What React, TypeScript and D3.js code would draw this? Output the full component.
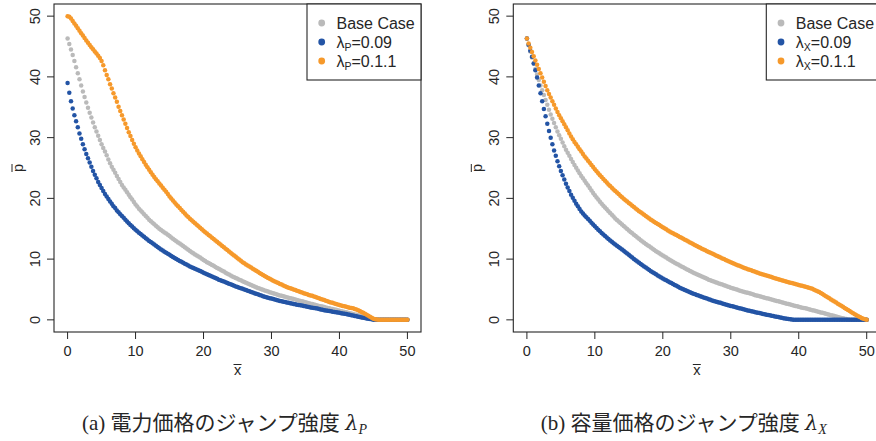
import React from 'react';
import * as d3 from 'd3';

const X_GRID = [
  0, 0.25, 0.5, 0.75, 1, 1.25, 1.5, 1.75, 2, 2.25, 2.5, 2.75, 3, 3.25, 3.5, 3.75, 4, 4.25, 4.5, 4.75,
  5, 5.25, 5.5, 5.75, 6, 6.25, 6.5, 6.75, 7, 7.25, 7.5, 7.75, 8, 8.25, 8.5, 8.75, 9, 9.25, 9.5, 9.75,
  10, 10.25, 10.5, 10.75, 11, 11.25, 11.5, 11.75, 12, 12.25, 12.5, 12.75, 13, 13.25, 13.5, 13.75, 14, 14.25, 14.5, 14.75,
  15, 15.25, 15.5, 15.75, 16, 16.25, 16.5, 16.75, 17, 17.25, 17.5, 17.75, 18, 18.25, 18.5, 18.75, 19, 19.25, 19.5, 19.75,
  20, 20.25, 20.5, 20.75, 21, 21.25, 21.5, 21.75, 22, 22.25, 22.5, 22.75, 23, 23.25, 23.5, 23.75, 24, 24.25, 24.5, 24.75,
  25, 25.25, 25.5, 25.75, 26, 26.25, 26.5, 26.75, 27, 27.25, 27.5, 27.75, 28, 28.25, 28.5, 28.75, 29, 29.25, 29.5, 29.75,
  30, 30.25, 30.5, 30.75, 31, 31.25, 31.5, 31.75, 32, 32.25, 32.5, 32.75, 33, 33.25, 33.5, 33.75, 34, 34.25, 34.5, 34.75,
  35, 35.25, 35.5, 35.75, 36, 36.25, 36.5, 36.75, 37, 37.25, 37.5, 37.75, 38, 38.25, 38.5, 38.75, 39, 39.25, 39.5, 39.75,
  40, 40.25, 40.5, 40.75, 41, 41.25, 41.5, 41.75, 42, 42.25, 42.5, 42.75, 43, 43.25, 43.5, 43.75, 44, 44.25, 44.5, 44.75,
  45, 45.25, 45.5, 45.75, 46, 46.25, 46.5, 46.75, 47, 47.25, 47.5, 47.75, 48, 48.25, 48.5, 48.75, 49, 49.25, 49.5, 49.75,
  50,
];

// Panel (a): jump intensity of electricity price
const A_BASE = [
  46.3, 45.4, 44.5, 43.6, 42.6, 41.6, 40.6, 39.6, 38.6, 37.6, 36.7, 35.8, 34.9, 34.1, 33.3, 32.5, 31.7, 31.0, 30.3, 29.6,
  28.9, 28.3, 27.7, 27.1, 26.4, 25.8, 25.2, 24.7, 24.2, 23.7, 23.2, 22.7, 22.2, 21.8, 21.4, 21.0, 20.6, 20.2, 19.8, 19.4,
  19.0, 18.65, 18.3, 18.0, 17.7, 17.4, 17.1, 16.8, 16.5, 16.25, 16.0, 15.75, 15.5, 15.25, 15.0, 14.8, 14.6, 14.4, 14.2, 14.0,
  13.8, 13.57, 13.35, 13.15, 12.95, 12.75, 12.55, 12.35, 12.15, 11.95, 11.75, 11.55, 11.35, 11.15, 10.95, 10.77, 10.6, 10.42, 10.25, 10.05,
  9.85, 9.67, 9.5, 9.35, 9.2, 9.05, 8.9, 8.72, 8.55, 8.4, 8.25, 8.1, 7.95, 7.77, 7.6, 7.45, 7.3, 7.15, 7.0, 6.87,
  6.75, 6.62, 6.5, 6.37, 6.25, 6.12, 6.0, 5.87, 5.75, 5.62, 5.5, 5.37, 5.25, 5.15, 5.05, 4.95, 4.85, 4.75, 4.65, 4.55,
  4.45, 4.37, 4.3, 4.2, 4.1, 4.02, 3.95, 3.87, 3.8, 3.72, 3.65, 3.57, 3.5, 3.42, 3.35, 3.27, 3.2, 3.12, 3.05, 2.97,
  2.9, 2.82, 2.75, 2.67, 2.6, 2.52, 2.45, 2.37, 2.3, 2.25, 2.2, 2.12, 2.05, 1.97, 1.9, 1.84, 1.78, 1.71, 1.65, 1.57,
  1.5, 1.43, 1.37, 1.3, 1.24, 1.17, 1.1, 1.03, 0.96, 0.89, 0.82, 0.75, 0.68, 0.61, 0.55, 0.48, 0.42, 0.35, 0.28, 0.21,
  0.14, 0.08, 0.02, 0, 0, 0, 0, 0, 0, 0, 0, 0, 0, 0, 0, 0, 0, 0, 0, 0,
  0,
];
const A_LOW = [
  39.0, 37.4, 36.0, 34.8, 33.7, 32.7, 31.7, 30.7, 29.8, 28.9, 28.1, 27.3, 26.6, 25.9, 25.2, 24.5, 23.9, 23.3, 22.7, 22.2,
  21.7, 21.2, 20.7, 20.3, 19.9, 19.5, 19.1, 18.7, 18.4, 18.0, 17.7, 17.4, 17.1, 16.8, 16.5, 16.2, 15.9, 15.6, 15.35, 15.1,
  14.85, 14.6, 14.35, 14.12, 13.9, 13.67, 13.45, 13.22, 13.0, 12.8, 12.6, 12.4, 12.2, 12.0, 11.8, 11.6, 11.4, 11.22, 11.05, 10.87,
  10.7, 10.52, 10.35, 10.17, 10.0, 9.85, 9.7, 9.55, 9.4, 9.25, 9.1, 8.95, 8.8, 8.67, 8.55, 8.42, 8.3, 8.17, 8.05, 7.9,
  7.75, 7.62, 7.5, 7.37, 7.25, 7.12, 7.0, 6.87, 6.75, 6.62, 6.5, 6.4, 6.3, 6.17, 6.05, 5.95, 5.85, 5.72, 5.6, 5.5,
  5.4, 5.3, 5.2, 5.1, 5.0, 4.9, 4.8, 4.7, 4.6, 4.5, 4.4, 4.3, 4.2, 4.1, 4.0, 3.9, 3.8, 3.72, 3.65, 3.57,
  3.5, 3.42, 3.35, 3.27, 3.2, 3.12, 3.05, 3.0, 2.95, 2.87, 2.8, 2.75, 2.7, 2.62, 2.55, 2.5, 2.45, 2.4, 2.35, 2.3,
  2.25, 2.17, 2.1, 2.05, 2.0, 1.95, 1.9, 1.85, 1.8, 1.72, 1.65, 1.6, 1.55, 1.5, 1.45, 1.4, 1.35, 1.3, 1.25, 1.2,
  1.15, 1.1, 1.05, 1.0, 0.95, 0.88, 0.82, 0.76, 0.7, 0.64, 0.58, 0.52, 0.46, 0.4, 0.35, 0.3, 0.24, 0.18, 0.13, 0.08,
  0.03, 0, 0, 0, 0, 0, 0, 0, 0, 0, 0, 0, 0, 0, 0, 0, 0, 0, 0, 0,
  0,
];
const A_HIGH = [
  50.0, 49.9, 49.6, 49.2, 48.8, 48.4, 48.0, 47.6, 47.2, 46.8, 46.4, 46.0, 45.6, 45.25, 44.9, 44.55, 44.2, 43.85, 43.5, 43.1,
  42.6, 41.9, 41.1, 40.3, 39.6, 38.8, 38.1, 37.3, 36.6, 35.9, 35.1, 34.4, 33.7, 33.0, 32.3, 31.6, 30.9, 30.25, 29.6, 29.0,
  28.4, 27.9, 27.4, 26.92, 26.45, 26.0, 25.55, 25.12, 24.7, 24.3, 23.9, 23.52, 23.15, 22.8, 22.45, 22.1, 21.75, 21.42, 21.1, 20.7,
  20.3, 19.97, 19.65, 19.32, 19.0, 18.7, 18.4, 18.1, 17.8, 17.5, 17.2, 16.92, 16.65, 16.4, 16.15, 15.9, 15.65, 15.4, 15.15, 14.9,
  14.65, 14.42, 14.2, 13.97, 13.75, 13.52, 13.3, 13.07, 12.85, 12.62, 12.4, 12.17, 11.95, 11.72, 11.5, 11.27, 11.05, 10.82, 10.6, 10.37,
  10.15, 9.93, 9.72, 9.5, 9.3, 9.12, 8.95, 8.77, 8.6, 8.42, 8.25, 8.07, 7.9, 7.72, 7.55, 7.37, 7.2, 7.05, 6.9, 6.75,
  6.6, 6.45, 6.3, 6.17, 6.05, 5.92, 5.8, 5.67, 5.55, 5.42, 5.3, 5.2, 5.1, 5.0, 4.9, 4.8, 4.7, 4.6, 4.5, 4.4,
  4.3, 4.2, 4.1, 4.02, 3.95, 3.85, 3.75, 3.65, 3.55, 3.45, 3.35, 3.25, 3.15, 3.05, 2.95, 2.87, 2.8, 2.7, 2.6, 2.52,
  2.45, 2.37, 2.3, 2.22, 2.15, 2.07, 2.0, 1.95, 1.9, 1.8, 1.7, 1.58, 1.45, 1.3, 1.15, 1.0, 0.85, 0.67, 0.5, 0.35,
  0.2, 0.1, 0.05, 0.01, 0, 0, 0, 0, 0, 0, 0, 0, 0, 0, 0, 0, 0, 0, 0, 0,
  0,
];

// Panel (b): jump intensity of capacity price
const B_BASE = [
  46.3, 45.2, 44.2, 43.2, 42.2, 41.3, 40.4, 39.5, 38.6, 37.8, 37.0, 36.2, 35.4, 34.6, 33.8, 33.1, 32.4, 31.7, 31.0, 30.4,
  29.8, 29.2, 28.6, 28.0, 27.5, 27.0, 26.5, 26.0, 25.5, 25.05, 24.6, 24.15, 23.7, 23.3, 22.9, 22.5, 22.1, 21.7, 21.3, 20.9,
  20.5, 20.15, 19.8, 19.45, 19.1, 18.8, 18.5, 18.2, 17.9, 17.6, 17.3, 17.0, 16.7, 16.45, 16.2, 15.95, 15.7, 15.45, 15.2, 14.95,
  14.7, 14.47, 14.25, 14.02, 13.8, 13.57, 13.35, 13.12, 12.9, 12.7, 12.5, 12.3, 12.1, 11.9, 11.7, 11.5, 11.3, 11.12, 10.95, 10.77,
  10.6, 10.42, 10.25, 10.07, 9.9, 9.72, 9.55, 9.4, 9.25, 9.1, 8.95, 8.8, 8.65, 8.5, 8.35, 8.2, 8.05, 7.9, 7.75, 7.62,
  7.5, 7.37, 7.25, 7.12, 7.0, 6.87, 6.75, 6.62, 6.5, 6.4, 6.3, 6.2, 6.1, 6.0, 5.9, 5.8, 5.7, 5.6, 5.5, 5.4,
  5.3, 5.2, 5.1, 5.02, 4.95, 4.85, 4.75, 4.67, 4.6, 4.52, 4.45, 4.37, 4.3, 4.2, 4.1, 4.02, 3.95, 3.87, 3.8, 3.72,
  3.65, 3.57, 3.5, 3.42, 3.35, 3.27, 3.2, 3.12, 3.05, 2.97, 2.9, 2.82, 2.75, 2.67, 2.6, 2.52, 2.45, 2.37, 2.3, 2.22,
  2.15, 2.07, 2.0, 1.95, 1.9, 1.82, 1.75, 1.67, 1.6, 1.52, 1.45, 1.37, 1.3, 1.22, 1.15, 1.07, 1.0, 0.92, 0.85, 0.77,
  0.7, 0.62, 0.55, 0.47, 0.4, 0.32, 0.25, 0.18, 0.12, 0.07, 0.03, 0, 0, 0, 0, 0, 0, 0, 0, 0,
  0,
];
const B_LOW = [
  46.3, 45.3, 44.3, 43.3, 42.2, 41.1, 39.9, 38.6, 37.3, 36.0, 34.7, 33.5, 32.3, 31.1, 30.0, 28.9, 27.9, 27.0, 26.1, 25.3,
  24.5, 23.8, 23.1, 22.4, 21.8, 21.2, 20.6, 20.1, 19.6, 19.1, 18.7, 18.25, 17.85, 17.5, 17.2, 16.9, 16.6, 16.3, 16.0, 15.7,
  15.4, 15.12, 14.85, 14.57, 14.3, 14.05, 13.8, 13.55, 13.3, 13.07, 12.85, 12.62, 12.4, 12.2, 12.0, 11.8, 11.6, 11.37, 11.15, 10.92,
  10.7, 10.47, 10.25, 10.02, 9.8, 9.6, 9.4, 9.2, 9.0, 8.8, 8.6, 8.4, 8.2, 8.02, 7.85, 7.67, 7.5, 7.32, 7.15, 6.97,
  6.8, 6.65, 6.5, 6.35, 6.2, 6.05, 5.9, 5.75, 5.6, 5.45, 5.3, 5.17, 5.05, 4.92, 4.8, 4.67, 4.55, 4.42, 4.3, 4.2,
  4.1, 4.0, 3.9, 3.8, 3.7, 3.6, 3.5, 3.4, 3.3, 3.2, 3.1, 3.02, 2.95, 2.87, 2.8, 2.7, 2.6, 2.52, 2.45, 2.37,
  2.3, 2.22, 2.15, 2.07, 2.0, 1.92, 1.85, 1.77, 1.7, 1.62, 1.55, 1.48, 1.42, 1.36, 1.3, 1.23, 1.17, 1.11, 1.05, 0.98,
  0.92, 0.86, 0.8, 0.74, 0.68, 0.62, 0.56, 0.5, 0.45, 0.39, 0.34, 0.28, 0.23, 0.18, 0.13, 0.09, 0.05, 0.02, 0, 0,
  0, 0, 0, 0, 0, 0, 0, 0, 0, 0, 0, 0, 0, 0, 0, 0, 0, 0, 0, 0,
  0, 0, 0, 0, 0, 0, 0, 0, 0, 0, 0, 0, 0, 0, 0, 0, 0, 0, 0, 0,
  0,
];
const B_HIGH = [
  46.3, 45.5, 44.8, 44.1, 43.4, 42.7, 42.0, 41.3, 40.6, 39.9, 39.2, 38.5, 37.8, 37.2, 36.6, 36.0, 35.4, 34.8, 34.2, 33.7,
  33.2, 32.7, 32.2, 31.7, 31.2, 30.7, 30.2, 29.75, 29.3, 28.9, 28.5, 28.1, 27.7, 27.3, 26.9, 26.55, 26.2, 25.85, 25.5, 25.15,
  24.8, 24.47, 24.15, 23.82, 23.5, 23.2, 22.9, 22.6, 22.3, 22.02, 21.75, 21.47, 21.2, 20.95, 20.7, 20.45, 20.2, 19.95, 19.7, 19.47,
  19.25, 19.02, 18.8, 18.57, 18.35, 18.12, 17.9, 17.7, 17.5, 17.3, 17.1, 16.9, 16.7, 16.5, 16.3, 16.12, 15.95, 15.77, 15.6, 15.42,
  15.25, 15.07, 14.9, 14.72, 14.55, 14.4, 14.25, 14.1, 13.95, 13.8, 13.65, 13.5, 13.35, 13.2, 13.05, 12.9, 12.75, 12.6, 12.45, 12.3,
  12.15, 12.0, 11.85, 11.72, 11.6, 11.45, 11.3, 11.17, 11.05, 10.92, 10.8, 10.65, 10.5, 10.37, 10.25, 10.12, 10.0, 9.87, 9.75, 9.62,
  9.5, 9.37, 9.25, 9.12, 9.0, 8.9, 8.8, 8.67, 8.55, 8.45, 8.35, 8.25, 8.15, 8.05, 7.95, 7.85, 7.75, 7.65, 7.55, 7.47,
  7.4, 7.3, 7.2, 7.12, 7.05, 6.95, 6.85, 6.77, 6.7, 6.6, 6.5, 6.42, 6.35, 6.27, 6.2, 6.12, 6.05, 5.97, 5.9, 5.82,
  5.75, 5.67, 5.6, 5.52, 5.45, 5.37, 5.3, 5.2, 5.1, 4.97, 4.85, 4.72, 4.6, 4.42, 4.25, 4.07, 3.9, 3.72, 3.55, 3.37,
  3.2, 3.02, 2.85, 2.67, 2.5, 2.32, 2.15, 1.97, 1.8, 1.62, 1.45, 1.27, 1.1, 0.92, 0.75, 0.6, 0.45, 0.32, 0.2, 0.1,
  0,
];

const X_TICKS = [0, 10, 20, 30, 40, 50];
const Y_TICKS = [0, 10, 20, 30, 40, 50];
const LEGEND_VALUES = ['', '=0.09', '=0.1.1'];
const COLORS = ['#bababa', '#2354a5', '#f6992b'];

const AXIS_FONT = '"Liberation Sans", Arial, Helvetica, sans-serif';
const CAPTION_FONT = '"Liberation Serif", "DejaVu Serif", "Noto Sans CJK JP", serif';
const INK = '#262626';

type PanelProps = {
  left: number;
  series: number[][];
  sub: string;
  label: string;
  caption: string;
  captionSub: string;
};

function Panel({ left, series, sub, label, caption, captionSub }: PanelProps) {
  const top = 4;
  const bottom = 332;
  const width = 367;
  const x = d3.scaleLinear().domain([-2, 52]).range([left, left + width]);
  const y = d3.scaleLinear().domain([-2, 52]).range([bottom, top]);
  const cx = left + width / 2;
  const cy = (top + bottom) / 2;
  const lgLeft = left + 253;
  const rows = [23, 42, 61];
  return (
    <g>
      {series.map((vals, si) => (
        <g key={si} fill={COLORS[si]}>
          {vals.map((v, i) => (
            <circle key={i} cx={x(X_GRID[i])} cy={y(v)} r={2.25} />
          ))}
        </g>
      ))}
      <rect x={left} y={top} width={width} height={bottom - top} fill="none" stroke={INK} strokeWidth={1.1} />
      <g fontFamily={AXIS_FONT} fontSize={14.5} fill={INK}>
        {X_TICKS.map((t) => (
          <g key={t}>
            <line x1={x(t)} x2={x(t)} y1={bottom} y2={bottom + 7} stroke={INK} strokeWidth={1} />
            <text x={x(t)} y={355.5} textAnchor="middle">{t}</text>
          </g>
        ))}
        {Y_TICKS.map((t) => (
          <g key={t}>
            <line x1={left} x2={left - 7} y1={y(t)} y2={y(t)} stroke={INK} strokeWidth={1} />
            <text transform={`translate(${left - 14.5},${y(t)}) rotate(-90)`} textAnchor="middle">{t}</text>
          </g>
        ))}
        <text x={cx} y={375} textAnchor="middle">x</text>
        <line x1={cx - 4} x2={cx + 4} y1={364.5} y2={364.5} stroke={INK} strokeWidth={1} />
        <g transform={`translate(${left - 31.5},${cy}) rotate(-90)`}>
          <text x={0} y={0} textAnchor="middle">p</text>
          <line x1={-4} x2={4} y1={-10.5} y2={-10.5} stroke={INK} strokeWidth={1} />
        </g>
      </g>
      <rect x={lgLeft} y={top} width={left + width - lgLeft} height={76} fill="white" stroke={INK} strokeWidth={1.1} />
      <g fontFamily={AXIS_FONT} fontSize={16} fill={INK}>
        {rows.map((ry, i) => (
          <g key={i}>
            <circle cx={lgLeft + 14.7} cy={ry} r={3.4} fill={COLORS[i]} />
            {i === 0 ? (
              <text x={lgLeft + 29.5} y={ry + 5.6}>{label}</text>
            ) : (
              <text x={lgLeft + 29.5} y={ry + 5.6}>
                λ<tspan fontSize={10.5} dy={3.5}>{sub}</tspan>
                <tspan dy={-3.5}>{LEGEND_VALUES[i]}</tspan>
              </text>
            )}
          </g>
        ))}
      </g>
      <text x={cx - 13} y={430} textAnchor="middle" fontFamily={CAPTION_FONT} fontSize={21} fill={INK}>
        {caption}
        <tspan fontStyle="italic" fontFamily={'"DejaVu Serif", "Liberation Serif", serif'}>λ</tspan>
        <tspan fontStyle="italic" fontSize={14} dy={4}>{captionSub}</tspan>
      </text>
    </g>
  );
}

export default function App() {
  return (
    <svg
      width={876}
      height={441}
      viewBox="0 0 876 441"
      style={{ position: 'absolute', left: 0, top: 0, background: 'white' }}
    >
      <rect x={0} y={0} width={876} height={441} fill="white" />
      <Panel
        left={54}
        series={[A_BASE, A_LOW, A_HIGH]}
        sub="P"
        label="Base Case"
        caption="(a) 電力価格のジャンプ強度 "
        captionSub="P"
      />
      <Panel
        left={513.3}
        series={[B_BASE, B_LOW, B_HIGH]}
        sub="X"
        label="Base Case"
        caption="(b) 容量価格のジャンプ強度 "
        captionSub="X"
      />
    </svg>
  );
}
